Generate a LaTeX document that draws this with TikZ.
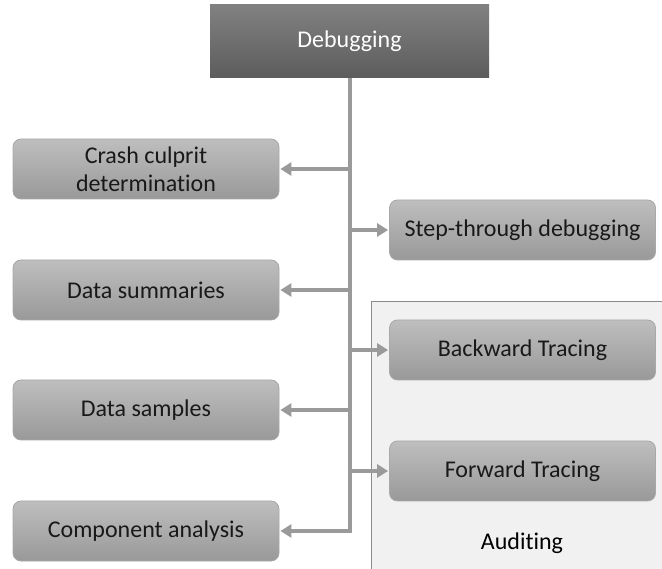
\documentclass[tikz,border=0pt]{standalone}
\usepackage{fontspec}
\setmainfont{Carlito}[Ligatures=NoCommon]
\usetikzlibrary{arrows.meta,calc}
\definecolor{conncol}{HTML}{9A9A9A}
\definecolor{boxtop}{HTML}{BEBEBE}
\definecolor{boxbot}{HTML}{999999}
\definecolor{boxline}{HTML}{A8A8A8}
\definecolor{roottop}{HTML}{818181}
\definecolor{rootbot}{HTML}{5C5C5C}
\definecolor{groupfill}{HTML}{F1F1F1}
\definecolor{groupline}{HTML}{8A8A8A}
\tikzset{
  labelfont/.style={font=\fontsize{24}{28}\selectfont},
  leaf/.style={draw=boxline, line width=0.8pt, rounded corners=8pt,
    top color=boxtop, bottom color=boxbot, minimum width=266pt,
    minimum height=60pt, align=center, text=black!90,
    labelfont, inner sep=0pt},
  rootbox/.style={draw=none, top color=roottop, bottom color=rootbot,
    minimum width=279pt, minimum height=73pt, text=white,
    labelfont, inner sep=0pt},
  conn/.style={draw=conncol, line width=4pt},
  arr/.style={conn, -{Triangle[length=11pt,width=13pt]}, shorten >=1pt},
}
\begin{document}
\begin{tikzpicture}[x=1pt,y=-1pt]
\useasboundingbox (0,0) rectangle (662,569);
\fill[white] (0,0) rectangle (662,569);

% auditing group panel (open to the right and bottom)
\fill[groupfill] (371,302) rectangle (662,569);
\draw[groupline, line width=1pt] (371,569) -- (371,302) -- (662,302);
\node[labelfont, text=black] (audit) at (522,543) {Auditing};

% root
\node[rootbox] (deb) at (349.5,41.5) {Debugging};

% left column
\node[leaf] (crash) at (146,169) {Crash culprit\\determination};
\node[leaf] (summ)  at (146,290) {Data summaries};
\node[leaf] (samp)  at (146,410) {Data samples};
\node[leaf] (comp)  at (146,531) {Component analysis};

% right column
\node[leaf] (step) at (522.5,230) {Step-through debugging};
\node[leaf] (back) at (522.5,350) {Backward Tracing};
\node[leaf] (fwd)  at (522.5,471) {Forward Tracing};

% trunk junctions
\coordinate (j1) at (deb.south |- crash.east);
\coordinate (j2) at (deb.south |- step.west);
\coordinate (j3) at (deb.south |- summ.east);
\coordinate (j4) at (deb.south |- back.west);
\coordinate (j5) at (deb.south |- samp.east);
\coordinate (j6) at (deb.south |- fwd.west);
\coordinate (j7) at (deb.south |- comp.east);

\draw[conn] (deb.south) -- ($(j7)+(0,2)$);
\draw[arr] ($(j1)+(2,0)$) -- (crash.east);
\draw[arr] ($(j3)+(2,0)$) -- (summ.east);
\draw[arr] ($(j5)+(2,0)$) -- (samp.east);
\draw[arr] ($(j7)+(2,0)$) -- (comp.east);
\draw[arr] ($(j2)-(2,0)$) -- (step.west);
\draw[arr] ($(j4)-(2,0)$) -- (back.west);
\draw[arr] ($(j6)-(2,0)$) -- (fwd.west);
\end{tikzpicture}
\end{document}
